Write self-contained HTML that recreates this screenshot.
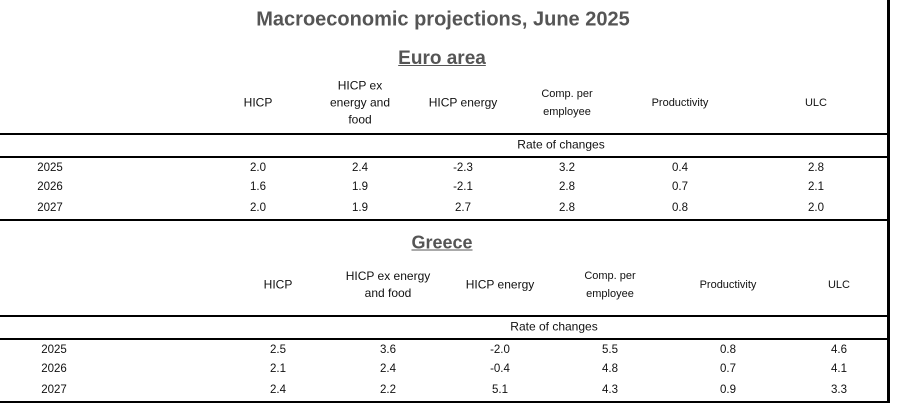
<!DOCTYPE html>
<html><head><meta charset="utf-8"><style>
body{margin:0;width:897px;height:407px;background:#fff;position:relative;overflow:hidden;font-family:"Liberation Sans",sans-serif;color:#111}
.t{position:absolute;transform:translate(-50%,-50%);white-space:nowrap;text-align:center}
.h{font-size:12px;line-height:17px}
.v{font-size:11.5px}
.ln{position:absolute;left:0;width:887px;background:#000}
</style></head><body>
<div class="t" style="left:443px;top:20px;font-size:20px;font-weight:bold;color:#555">Macroeconomic projections, June 2025</div>
<div class="t" style="left:442px;top:59px;font-size:19px;font-weight:bold;color:#555;text-decoration:underline">Euro area</div>
<div class="t" style="left:442px;top:243px;font-size:18px;font-weight:bold;color:#555;text-decoration:underline">Greece</div>
<div style="position:absolute;left:887px;top:0;width:3px;height:403px;background:#000"></div>
<div id="root"></div>
<script>
const headersEA = ["HICP","HICP ex<br>energy and<br>food","HICP energy","<span style='font-size:11px'>Comp. per<br>employee</span>","<span style='font-size:11px'>Productivity</span>","<span style='font-size:11px'>ULC</span>"];
const headersGR = ["HICP","HICP ex energy<br>and food","HICP energy","<span style='font-size:11px'>Comp. per<br>employee</span>","<span style='font-size:11px'>Productivity</span>","<span style='font-size:11px'>ULC</span>"];
const years = ["2025","2026","2027"];
const valuesEA = [["2.0","2.4","-2.3","3.2","0.4","2.8"],["1.6","1.9","-2.1","2.8","0.7","2.1"],["2.0","1.9","2.7","2.8","0.8","2.0"]];
const valuesGR = [["2.5","3.6","-2.0","5.5","0.8","4.6"],["2.1","2.4","-0.4","4.8","0.7","4.1"],["2.4","2.2","5.1","4.3","0.9","3.3"]];
const root=document.getElementById('root');
function txt(html,x,y,cls,name){const d=document.createElement('div');d.className='t '+cls;d.innerHTML=html;d.style.left=x+'px';d.style.top=y+'px';


root.appendChild(d);}
function line(y,h,name){const d=document.createElement('div');d.className='ln';d.style.top=y+'px';d.style.height=h+'px';


root.appendChild(d);}
function section(cfg){
  cfg.heads.forEach((h,i)=>txt(h,cfg.cols[i],cfg.headY,'h',cfg.key+'-header-'+i));
  line(cfg.l1,2,cfg.key+'-header-rule');
  txt('Rate of changes',cfg.rateX,cfg.l1+12,'h',cfg.key+'-rate-label');
  line(cfg.l1+23,2,cfg.key+'-rate-rule');
  years.forEach((yr,r)=>{
    txt(yr,cfg.yearX,cfg.rows[r],'v',cfg.key+'-year-'+yr);
    cfg.vals[r].forEach((v,c)=>txt(v,cfg.cols[c],cfg.rows[r],'v',cfg.key+'-value-'+yr+'-'+c));
  });
  line(cfg.l2,2,cfg.key+'-bottom-rule');
}
section({key:'euro',heads:headersEA,cols:[258,360,463,567,680,816],headY:103,l1:133,rateX:561,yearX:50,rows:[168,187,208],vals:valuesEA,l2:219});
section({key:'greece',heads:headersGR,cols:[278,388,500,610,728,839],headY:285,l1:315,rateX:554,yearX:54,rows:[350,369,390],vals:valuesGR,l2:401});
</script>
</body></html>
